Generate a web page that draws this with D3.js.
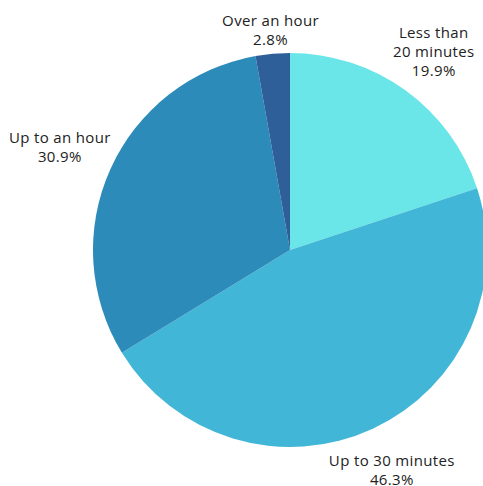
<!DOCTYPE html>
<meta charset="utf-8">
<style>
body { margin: 0; background: #fff; }
.label { font-family: "Open Sans", sans-serif; font-size: 15px; letter-spacing: 0.35px; fill: #222; }
</style>
<body>
<script src="https://d3js.org/d3.v7.min.js"></script>
<script>

// chart values
var categories = [["Less than", "20 minutes"], ["Up to 30 minutes"], ["Up to an hour"], ["Over an hour"]];
var shares = [19.9, 46.3, 30.9, 2.8];
var colours = ["#6ae5e8", "#41b6d6", "#2d8bba", "#2e5f98"];

var width = 483, height = 486,
    cx = 290, cy = 250, radius = 197,
    lineH = 19, gap = 1;

var svg = d3.select("body").append("svg")
    .attr("width", width)
    .attr("height", height);

var g = svg.append("g")
    .attr("transform", "translate(" + cx + "," + cy + ")");

var data = shares.map(function(v, i) {
  return {name: categories[i], value: v, colour: colours[i]};
});

var pie = d3.pie().sort(null).value(function(d) { return d.value; });
var arc = d3.arc().innerRadius(0).outerRadius(radius);

var arcs = pie(data);

g.selectAll("path.slice")
    .data(arcs)
  .enter().append("path")
    .attr("class", "slice")
    .attr("d", arc)
    .attr("fill", function(d) { return d.data.colour; });

// labels, pushed just outside the rim along the mid angle
arcs.forEach(function(d) {
  var lines = d.data.name.concat([d3.format(".1f")(d.data.value) + "%"]);
  var t = g.append("text")
      .attr("class", "label")
      .attr("text-anchor", "middle");
  lines.forEach(function(l, i) {
    t.append("tspan").attr("x", 0).attr("y", i * lineH).text(l);
  });
  var bb = t.node().getBBox();
  var a = (d.startAngle + d.endAngle) / 2;
  var w = bb.width, h = bb.height;
  var dist = radius + gap + Math.abs(Math.sin(a)) * w / 2 + Math.abs(Math.cos(a)) * h / 2;
  var px = Math.sin(a) * dist, py = -Math.cos(a) * dist;
  // shift so bbox centre sits on (px, py)
  t.attr("transform", "translate(" + (px - (bb.x + w / 2)) + "," + (py - (bb.y + h / 2)) + ")");
});

</script>
</body>
